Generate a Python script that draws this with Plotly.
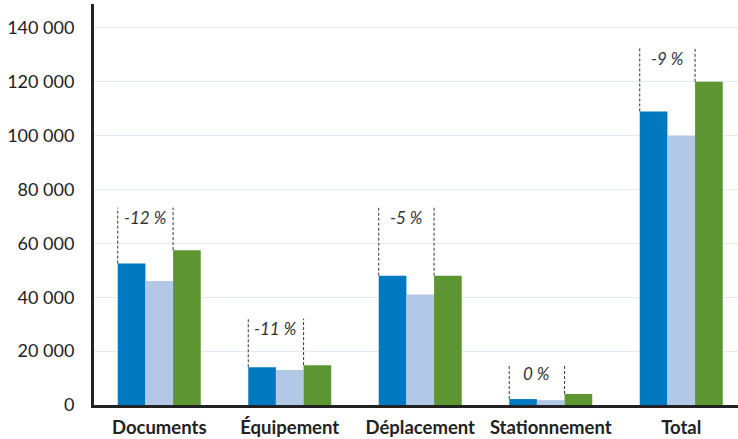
import plotly.graph_objects as go

# Categories and series values
categories = ["Documents", "Équipement", "Déplacement", "Stationnement", "Total"]
series_a = [52500, 14000, 48000, 2200, 109000]
series_b = [46000, 13000, 41000, 1800, 100000]
series_c = [57500, 14800, 48000, 4100, 120000]

# Change labels and the height reached by their bracket lines
change_labels = ["-12 %", "-11 %", "-5 %", "0 %", "-9 %"]
bracket_tops = [73300, 32000, 73300, 15300, 132500]

y_ticks = [0, 20000, 40000, 60000, 80000, 100000, 120000, 140000]

colors = ["#0079c1", "#b3c8e7", "#5d9532"]
font = "Lato, 'Noto Sans', sans-serif"

bargap = 0.364
w = (1 - bargap) / 3  # width of one bar in category units

xs = list(range(len(categories)))

fig = go.Figure()
for vals, col in zip([series_a, series_b, series_c], colors):
    fig.add_trace(go.Bar(x=xs, y=vals, marker=dict(color=col, line=dict(width=0)),
                         showlegend=False, hoverinfo="y"))

shapes = []
annotations = []
for i in xs:
    xl = i - 1.5 * w
    xr = i + 0.5 * w
    top = bracket_tops[i]
    shapes.append(dict(type="line", xref="x", yref="y", x0=xl, x1=xl, y0=series_a[i], y1=top,
                       line=dict(color="#333333", width=1, dash="3px,2px")))
    shapes.append(dict(type="line", xref="x", yref="y", x0=xr, x1=xr, y0=series_c[i], y1=top,
                       line=dict(color="#333333", width=1, dash="3px,2px")))
    annotations.append(dict(x=i - 0.5 * w, y=top, xref="x", yref="y", text=change_labels[i],
                            showarrow=False, yanchor="middle", xanchor="center", yshift=-10,
                            font=dict(family=font, size=17, color="#333333", style="italic")))

fig.update_layout(
    width=738, height=439,
    margin=dict(l=94, r=0, t=4, b=34),
    paper_bgcolor="white", plot_bgcolor="white",
    barmode="group", bargap=bargap, bargroupgap=0,
    separators=", ",
    shapes=shapes, annotations=annotations,
    xaxis=dict(range=[-0.5, 4.435], tickmode="array", tickvals=xs, ticktext=categories,
               showgrid=False, zeroline=False, showline=True, linecolor="#222222", linewidth=3,
               ticks="", ticklabelstandoff=4,
               tickfont=dict(family=font, size=18.5, color="#222222", weight="bold")),
    yaxis=dict(range=[0, 148900], tickmode="array", tickvals=y_ticks, tickformat=",d",
               showgrid=True, gridcolor="#e4ebf3", gridwidth=1, zeroline=False,
               showline=True, linecolor="#222222", linewidth=3, ticks="",
               ticklabelstandoff=13,
               tickfont=dict(family=font, size=18, color="#222222")),
)

fig.write_html("out.html")
